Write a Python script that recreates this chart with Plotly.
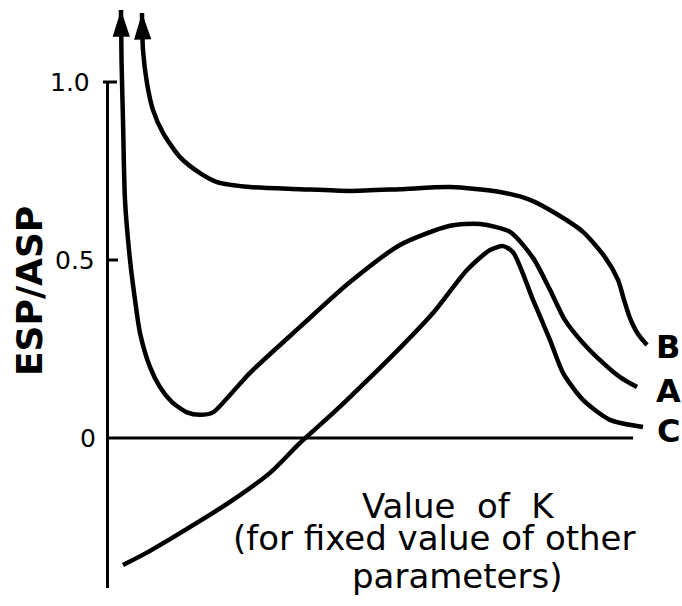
import plotly.graph_objects as go

# ---- data (K in arbitrary units, ESP/ASP ratio) ----
# Curve A: starts with an arrow at the top left, dips, peaks ~0.6, falls to ~0.14
K_A = [0.257, 0.267, 0.295, 0.333, 0.429, 0.524, 0.619, 0.810, 1.000, 1.229,
       1.514, 1.762, 2.010, 2.333, 2.714, 3.667, 4.619, 5.571, 6.524, 7.095,
       7.667, 8.105, 8.429, 8.714, 9.057, 9.438, 9.762, 10.086]
ratio_A = [1.202, 1.062, 0.893, 0.669, 0.500, 0.388, 0.295, 0.199, 0.143, 0.101,
           0.072, 0.065, 0.072, 0.121, 0.183, 0.312, 0.438, 0.542, 0.596, 0.601,
           0.579, 0.506, 0.416, 0.331, 0.267, 0.211, 0.171, 0.143]

# Curve B: starts with an arrow, plateau ~0.7, falls to ~0.26
K_B = [0.657, 0.676, 0.752, 0.867, 1.057, 1.381, 1.762, 2.086, 2.714, 3.667,
       4.619, 5.571, 6.524, 7.476, 8.048, 8.524, 9.057, 9.476, 9.724, 9.838,
       9.952, 10.105, 10.276]
ratio_B = [1.194, 1.090, 0.997, 0.921, 0.857, 0.789, 0.744, 0.719, 0.705, 0.699,
           0.694, 0.699, 0.705, 0.691, 0.669, 0.632, 0.579, 0.508, 0.444, 0.388,
           0.337, 0.292, 0.261]

# Curve C: starts negative, peaks ~0.54, falls to ~0.03
K_C = [0.295, 0.810, 1.762, 2.390, 3.095, 3.667, 4.295, 4.619, 5.571, 6.200,
       6.848, 7.286, 7.533, 7.724, 8.105, 8.429, 8.676, 9.057, 9.571, 10.200]
ratio_C = [-0.357, -0.317, -0.233, -0.174, -0.098, -0.014, 0.070, 0.115, 0.253, 0.351,
           0.472, 0.528, 0.539, 0.522, 0.388, 0.275, 0.183, 0.107, 0.051, 0.031]

curve_names = ["A", "B", "C"]
tick_vals = [1.0, 0.5, 0.0]
tick_text = ["1.0", "0.5", "0"]
K_axis_end = 10.01
y_axis_bottom = -0.421

# ---- layout geometry ----
W, H = 682, 606
ML, MR, MT, MB = 97, 25, 4, 16
PW, PH = W - ML - MR, H - MT - MB


def px(x):
    return (x - ML) / PW


def py(y):
    return (H - MB - y) / PH


FONT = "DejaVu Sans"
LW = 4.5

fig = go.Figure()


def add_curve(kx, ry, arrow):
    xs, ys = (kx[::-1], ry[::-1]) if arrow else (kx, ry)
    n = len(xs)
    if arrow:
        fig.add_trace(go.Scatter(
            x=xs, y=ys, mode="lines+markers",
            line=dict(color="black", width=LW, shape="spline", smoothing=0.7),
            marker=dict(symbol=["circle"] * (n - 1) + ["arrow"],
                        size=[0] * (n - 1) + [28], color="black", opacity=1,
                        angleref="previous", line=dict(width=0)),
            cliponaxis=False, hoverinfo="skip"))
    else:
        fig.add_trace(go.Scatter(
            x=xs, y=ys, mode="lines",
            line=dict(color="black", width=LW, shape="spline", smoothing=0.7),
            cliponaxis=False, hoverinfo="skip"))


add_curve(K_A, ratio_A, True)
add_curve(K_B, ratio_B, True)
add_curve(K_C, ratio_C, False)

# axis line, ticks, zero line
shapes = [
    dict(type="line", xref="x", yref="y", x0=0, x1=0, y0=tick_vals[0], y1=y_axis_bottom,
         line=dict(color="black", width=3)),
    dict(type="line", xref="x", yref="y", x0=-0.086, x1=0.18, y0=tick_vals[0], y1=tick_vals[0],
         line=dict(color="black", width=3)),
    dict(type="line", xref="x", yref="y", x0=0, x1=0.2, y0=tick_vals[1], y1=tick_vals[1],
         line=dict(color="black", width=3)),
    dict(type="line", xref="x", yref="y", x0=0, x1=K_axis_end, y0=tick_vals[2], y1=tick_vals[2],
         line=dict(color="black", width=3)),
]

annotations = []
# tick labels
tick_x = [(92, "right"), (97, "right"), (88, "center")]
for v, t, (xp, anc) in zip(tick_vals, tick_text, tick_x):
    annotations.append(dict(xref="paper", yref="y", x=px(xp), y=v, text=t,
                            xanchor=anc, yanchor="middle", showarrow=False,
                            font=dict(family=FONT, size=25, color="black")))

# y title
annotations.append(dict(xref="paper", yref="paper", x=px(29), y=py(291), text="<b>ESP/ASP</b>",
                        textangle=-90, showarrow=False, xanchor="center", yanchor="middle",
                        font=dict(family=FONT, size=36, color="black")))

# x title lines
x_title = [("Value\u00a0\u00a0of\u00a0\u00a0K", 458, 506),
           ("(for fixed value of other", 434, 538),
           ("parameters)", 457, 576)]
for t, xp, yp in x_title:
    annotations.append(dict(xref="paper", yref="paper", x=px(xp), y=py(yp), text=t,
                            showarrow=False, xanchor="center", yanchor="middle",
                            font=dict(family=FONT, size=34, color="black")))

# curve labels
label_pos = {"B": 347, "A": 391, "C": 431}
for name in curve_names:
    annotations.append(dict(xref="paper", yref="paper", x=px(668), y=py(label_pos[name]),
                            text="<b>%s</b>" % name, showarrow=False,
                            xanchor="center", yanchor="middle",
                            font=dict(family=FONT, size=32, color="black")))

fig.update_layout(
    width=W, height=H,
    margin=dict(l=ML, r=MR, t=MT, b=MB, autoexpand=False),
    paper_bgcolor="white", plot_bgcolor="white",
    showlegend=False,
    xaxis=dict(range=[-0.2, -0.2 + PW / 52.5], visible=False, fixedrange=True),
    yaxis=dict(range=[(438 - (H - MB)) / 356, (438 - MT) / 356], visible=False, fixedrange=True),
    shapes=shapes,
    annotations=annotations,
)

fig.write_html("out.html", config={"displayModeBar": False},
               post_script="document.body.style.margin='0';")
